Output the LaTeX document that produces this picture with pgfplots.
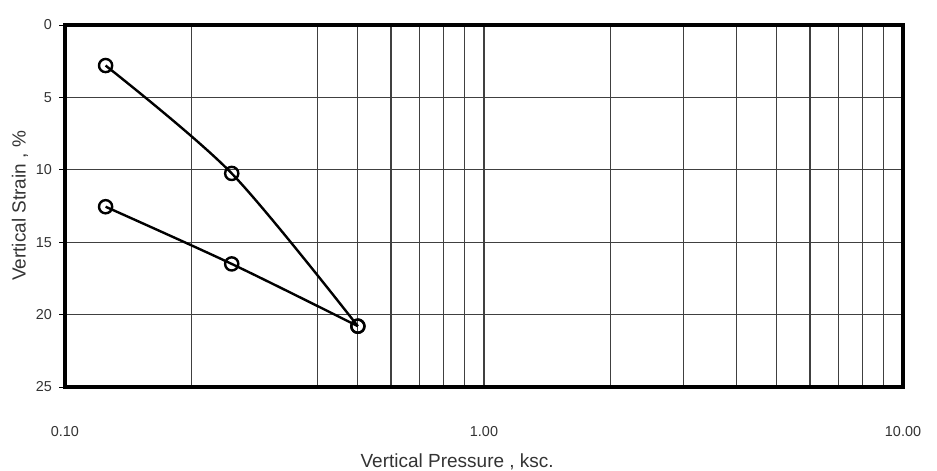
\documentclass[border=0pt]{standalone}
\usepackage{pgfplots}
\pgfplotsset{compat=1.18}
\usepackage{fontspec}
\setmainfont{Liberation Sans}
\usetikzlibrary{calc}

\begin{document}
\begin{tikzpicture}
\begin{axis}[
  scale only axis,
  width=419pt, height=181pt,
  xmode=log,
  xmin=0.1, xmax=10,
  ymin=0, ymax=25,
  y dir=reverse,
  xtick={0.1,1,10},
  xticklabels={0.10,1.00,10.00},
  minor xtick={0.2,0.4,0.5,0.6,0.7,0.8,0.9,2,3,4,5,6,7,8,9},
  ytick={0,5,10,15,20,25},
  xmajorgrids, xminorgrids, ymajorgrids,
  grid style={black!75, line width=0.55pt},
  minor grid style={black!75, line width=0.55pt},
  axis line style={line width=2.2pt},
  tick align=outside,
  xtick pos=bottom, ytick pos=left,
  major tick length=3pt,
  minor tick length=0pt,
  x tick style={draw=none},
  y tick style={black, line width=0.5pt},
  /pgf/number format/assume math mode=true,
  tick label style={font=\fontsize{7.2}{8}\selectfont, text=black!80},
  every x tick label/.append style={yshift=-13pt},
  every y tick label/.append style={xshift=0pt},
  xlabel={Vertical Pressure , ksc.},
  ylabel={Vertical Strain , \%},
  label style={font=\fontsize{9.5}{11}\selectfont, text=black!80},
  xlabel style={at={(axis description cs:0.468,-0.207)}, anchor=center},
  ylabel style={at={(axis description cs:-0.0537,0.5)}, anchor=center},
  clip=false,
]
  \coordinate (bl) at (rel axis cs:0,0);
  \coordinate (tr) at (rel axis cs:1,1);
  % upper curve (loading)
  \addplot[black, line width=1.2pt, smooth,
    mark=o, mark size=3.3pt, mark options={line width=1.2pt}]
    coordinates {(0.125,2.8) (0.25,10.25) (0.5,20.8)};
  % lower curve (unloading)
  \addplot[black, line width=1.2pt, smooth,
    mark=o, mark size=3.3pt, mark options={line width=1.2pt}]
    coordinates {(0.125,12.55) (0.25,16.5) (0.5,20.8)};
\end{axis}
\pgfresetboundingbox
\path[use as bounding box] ($(bl)+(-32.5pt,-42pt)$) rectangle ($(tr)+(17pt,12.5pt)$);
\end{tikzpicture}
\end{document}
